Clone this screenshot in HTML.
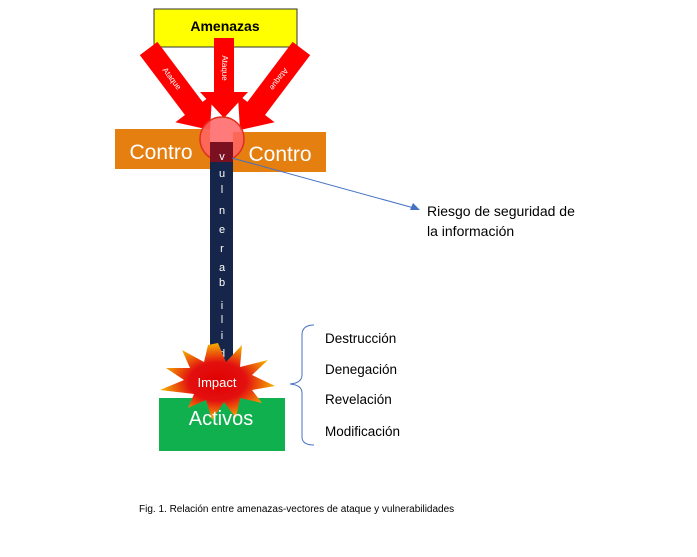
<!DOCTYPE html>
<html><head><meta charset="utf-8"><style>
body{margin:0;background:#fff;width:697px;height:557px;overflow:hidden}
svg{display:block}
text{font-family:"Liberation Sans",sans-serif}
</style></head><body>
<svg width="697" height="557" viewBox="0 0 697 557">
<defs>
<radialGradient id="sb" cx="50%" cy="50%" r="50%">
<stop offset="0" stop-color="#e00000"/><stop offset="0.5" stop-color="#e31010"/><stop offset="1" stop-color="#f5b000"/>
</radialGradient>
</defs>
<rect x="154" y="9" width="143" height="38" fill="#ffff00" stroke="#333" stroke-width="1"/>
<text x="225" y="31" font-size="14" font-weight="bold" text-anchor="middle">Amenazas</text>
<!-- left arrow -->
<g transform="translate(210,130) rotate(-37)">
<polygon points="-11,-102 11,-102 11,-27 23,-27 0,0 -23,-27 -11,-27" fill="#ff0000"/>
<text x="0" y="-64" font-size="8" fill="#fff" text-anchor="middle" dominant-baseline="middle" transform="rotate(90 0 -64)">Ataque</text>
</g>
<!-- center arrow -->
<g transform="translate(224,118)">
<polygon points="-10,-80 10,-80 10,-26 24,-26 0,0 -24,-26 -10,-26" fill="#ff0000"/>
<text x="0" y="-50" font-size="8" fill="#fff" text-anchor="middle" dominant-baseline="middle" transform="rotate(90 0 -50)">Ataque</text>
</g>
<!-- right arrow -->
<g transform="translate(240,130) rotate(37)">
<polygon points="-11,-102 11,-102 11,-27 23,-27 0,0 -23,-27 -11,-27" fill="#ff0000"/>
<text x="0" y="-64" font-size="8" fill="#fff" text-anchor="middle" dominant-baseline="middle" transform="rotate(90 0 -64)">Ataque</text>
</g>
<rect x="115" y="129" width="95" height="40" fill="#e47f10"/>
<text x="161" y="159" font-size="21" fill="#fff" text-anchor="middle">Contro</text>
<rect x="233" y="132" width="93" height="40" fill="#e47f10"/>
<text x="280" y="161" font-size="21" fill="#fff" text-anchor="middle">Contro</text>
<rect x="210" y="142" width="23" height="225" fill="#16264a"/>
<circle cx="222" cy="139" r="22" fill="#ff6464" fill-opacity="0.85" stroke="#e03020" stroke-width="1.5"/>
<rect x="210" y="142" width="23" height="20" fill="#7a1020"/>
<g font-size="11" fill="#fff" text-anchor="middle">
<text x="222" y="160">v</text><text x="222" y="177">u</text><text x="222" y="193">l</text>
<text x="222" y="214">n</text><text x="222" y="233">e</text><text x="222" y="252">r</text>
<text x="222" y="271">a</text><text x="222" y="286">b</text><text x="222" y="309">i</text>
<text x="222" y="323">l</text><text x="222" y="339">i</text><text x="222" y="357">d</text>
</g>
<line x1="232" y1="158" x2="414" y2="208" stroke="#4472c4" stroke-width="1"/>
<polygon points="420,210 410,210 413,203" fill="#4472c4"/>
<text x="427" y="216" font-size="14">Riesgo de seguridad de</text>
<text x="427" y="236" font-size="14">la información</text>
<rect x="159" y="398" width="126" height="53" fill="#11b04f"/>
<polygon fill="url(#sb)" points="218,343 226,362 242,345 240,367 268,360 252,375 275,386 252,390 262,403 240,398 236,418 224,402 212,420 206,400 188,408 194,394 160,390 184,380 166,368 190,368 182,350 204,362 208,345"/>
<text x="217" y="387" font-size="13" fill="#fff" text-anchor="middle">Impact</text>
<text x="221" y="425" font-size="20" fill="#fff" text-anchor="middle">Activos</text>
<path d="M314,325 Q302,325 302,335 L302,375 Q302,383 290,384 Q302,385 302,393 L302,437 Q302,445 314,445" fill="none" stroke="#4472c4" stroke-width="1"/>
<g font-size="13.5">
<text x="325" y="343">Destrucción</text>
<text x="325" y="374">Denegación</text>
<text x="325" y="404">Revelación</text>
<text x="325" y="436">Modificación</text>
</g>
<text x="139" y="512" font-size="10">Fig. 1. Relación entre amenazas-vectores de ataque y vulnerabilidades</text>
</svg>
</body></html>
